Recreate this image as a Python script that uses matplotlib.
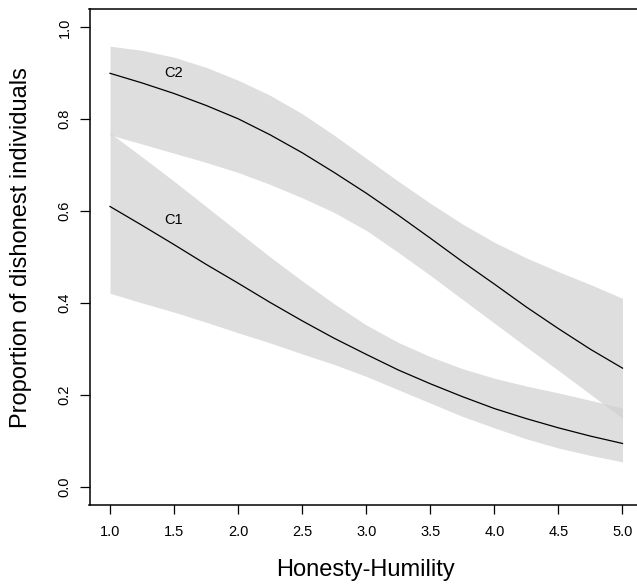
import matplotlib
matplotlib.use("Agg")
import matplotlib.pyplot as plt

plt.rcParams['font.family'] = ['Liberation Sans', 'DejaVu Sans']

# values
hh = [1.0, 1.25, 1.5, 1.75, 2.0, 2.25, 2.5, 2.75, 3.0,
      3.25, 3.5, 3.75, 4.0, 4.25, 4.5, 4.75, 5.0]

c2_fit = [0.900, 0.879, 0.856, 0.830, 0.801, 0.766, 0.727, 0.684, 0.639,
          0.591, 0.541, 0.490, 0.441, 0.391, 0.344, 0.299, 0.258]
c2_hi = [0.959, 0.950, 0.935, 0.913, 0.885, 0.852, 0.812, 0.765, 0.715,
         0.665, 0.617, 0.572, 0.532, 0.498, 0.468, 0.440, 0.410]
c2_lo = [0.766, 0.746, 0.726, 0.706, 0.684, 0.658, 0.629, 0.597, 0.558,
         0.510, 0.460, 0.408, 0.356, 0.304, 0.253, 0.201, 0.149]

c1_fit = [0.610, 0.569, 0.527, 0.484, 0.443, 0.401, 0.361, 0.323, 0.288,
          0.254, 0.224, 0.196, 0.170, 0.148, 0.128, 0.110, 0.094]
c1_hi = [0.770, 0.718, 0.665, 0.610, 0.555, 0.500, 0.448, 0.398, 0.352,
         0.314, 0.283, 0.257, 0.236, 0.219, 0.204, 0.188, 0.171]
c1_lo = [0.421, 0.400, 0.380, 0.358, 0.335, 0.313, 0.289, 0.266, 0.240,
         0.211, 0.182, 0.153, 0.128, 0.104, 0.084, 0.068, 0.054]

xticks = [1.0, 1.5, 2.0, 2.5, 3.0, 3.5, 4.0, 4.5, 5.0]
yticks = [0.0, 0.2, 0.4, 0.6, 0.8, 1.0]

W, H = 637, 584
fig = plt.figure(figsize=(W / 100, H / 100), dpi=100)
# plot region like R's: right edge of the box falls outside the picture
ax = fig.add_axes([89.5 / W, (H - 505) / H, (643 - 89.5) / W, (505 - 9) / H])

band = '#D0D0D0'
ax.fill_between(hh, c1_lo, c1_hi, color=band, alpha=0.7, lw=0)
ax.fill_between(hh, c2_lo, c2_hi, color=band, alpha=0.7, lw=0)
ax.plot(hh, c1_fit, color='black', lw=0.9)
ax.plot(hh, c2_fit, color='black', lw=0.9)

ax.text(1.5, 0.90, 'C2', fontsize=10.5, ha='center', va='center')
ax.text(1.5, 0.58, 'C1', fontsize=10.5, ha='center', va='center')

ax.set_xlim(0.84, 5.16)
ax.set_ylim(-0.04, 1.04)

ax.set_xticks(xticks)
ax.set_xticklabels(['%.1f' % v for v in xticks], fontsize=10.5)
ax.set_yticks(yticks)
ax.set_yticklabels(['%.1f' % v for v in yticks], fontsize=10.5,
                   rotation=90, va='center')
ax.tick_params(axis='x', length=6.5, width=0.9, pad=8, colors='black')
ax.tick_params(axis='y', length=7, width=0.9, pad=6, colors='black')
for s in ax.spines.values():
    s.set_linewidth(1.1)

fig.text(365 / W, 1 - 570 / H, 'Honesty-Humility', fontsize=17,
         ha='center', va='center')
fig.text(21 / W, 1 - 248 / H, 'Proportion of dishonest individuals',
         fontsize=17, rotation=90, ha='center', va='center')

fig.savefig('out.png', dpi=100)
